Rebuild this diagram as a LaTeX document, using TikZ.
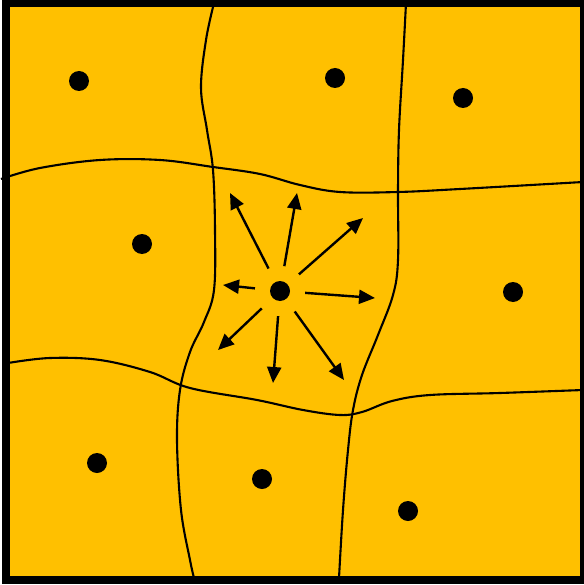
\documentclass[tikz,border=0pt]{standalone}
\usepackage{tikz}
\usetikzlibrary{calc,positioning,arrows.meta}
\usepackage{xcolor}
\definecolor{cellfill}{RGB}{255,192,0}

\begin{document}
\begin{tikzpicture}[
  x=1pt, y=-1pt,
  frame/.style={draw=black, line width=8pt},
  border/.style={black, line width=2.1pt},
  site/.style={circle, fill=black, minimum size=20pt, inner sep=0pt},
  arr/.style={-{Triangle[length=16pt, width=14pt]}, line width=2.4pt, shorten <=15pt},
]
 \useasboundingbox (0,0) rectangle (583,585);
 \fill[cellfill] (6,3) rectangle (584,580);

 % Cell borders
 \draw[border] plot[smooth, tension=0.6] coordinates {(214,3) (206,40) (201,88) (207,130) (213,170) (215,230) (214,290) (204,322) (190,352) (180,390) (177,440) (181,510) (190,560) (194,578)};
 \draw[border] plot[smooth, tension=0.6] coordinates {(406,3) (403,60) (399,130) (398,190) (398,260) (393,295) (378,335) (362,375) (353,410) (348,450) (343,510) (339,578)};
 \draw[border] plot[smooth, tension=0.6] coordinates {(1,179) (40,168) (100,160) (160,160) (213,167) (260,174) (300,185) (340,192) (398,192) (460,189) (583,182)};
 \draw[border] plot[smooth, tension=0.6] coordinates {(8,363) (50,358) (100,360) (150,372) (190,388) (257,400) (303,410) (340,415) (362,412) (392,401) (430,395) (500,393) (583,390)};

 % Sites
 \node[site] (s1) at (79,81) {};
 \node[site] (s2) at (335,78) {};
 \node[site] (s3) at (463,98) {};
 \node[site] (s4) at (142,244) {};
 \node[site] (c) at (280,291) {};
 \node[site] (s6) at (513,292) {};
 \node[site] (s7) at (97,463) {};
 \node[site] (s8) at (262,479) {};
 \node[site] (s9) at (408,511) {};

 % Arrows out of the centre site
 \foreach \x/\y [count=\i] in {230/193, 297/193, 363/218, 223/285, 375/298, 218/350, 273/383, 344/380} {
   \coordinate (tip\i) at (\x,\y);
   \draw[arr] (c) -- (tip\i);
 }

 \draw[frame] (6,3) rectangle (584,580);
\end{tikzpicture}
\end{document}
